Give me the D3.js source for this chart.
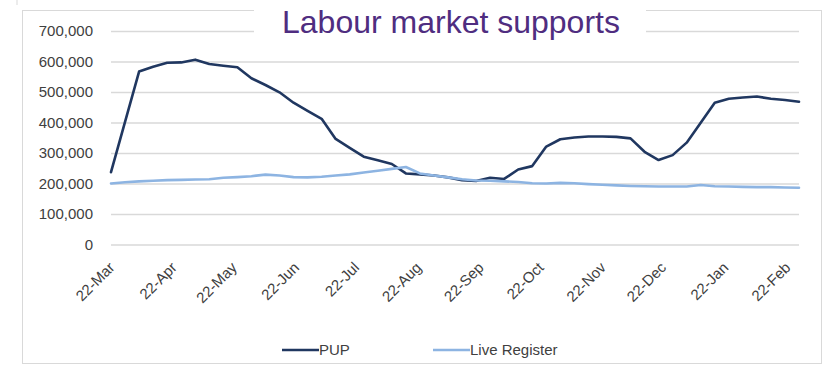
<!DOCTYPE html>
<html>
<head>
<meta charset="utf-8">
<script src="https://cdn.jsdelivr.net/npm/d3@7"></script>
<style>
  body { margin: 0; background: #fff; }
  svg { display: block; }
</style>
</head>
<body>
<div id="main"></div>
<script>
// Weekly dates (x categories)
const weeks = [
  "2020-03-22", "2020-03-29", "2020-04-05", "2020-04-12", "2020-04-19", "2020-04-26",
  "2020-05-03", "2020-05-10", "2020-05-17", "2020-05-24", "2020-05-31", "2020-06-07",
  "2020-06-14", "2020-06-21", "2020-06-28", "2020-07-05", "2020-07-12", "2020-07-19",
  "2020-07-26", "2020-08-02", "2020-08-09", "2020-08-16", "2020-08-23", "2020-08-30",
  "2020-09-06", "2020-09-13", "2020-09-20", "2020-09-27", "2020-10-04", "2020-10-11",
  "2020-10-18", "2020-10-25", "2020-11-01", "2020-11-08", "2020-11-15", "2020-11-22",
  "2020-11-29", "2020-12-06", "2020-12-13", "2020-12-20", "2020-12-27", "2021-01-03",
  "2021-01-10", "2021-01-17", "2021-01-24", "2021-01-31", "2021-02-07", "2021-02-14",
  "2021-02-21", "2021-02-28"
];
// PUP recipients
const pup = [
  237000, 402000, 567000, 583000, 596000, 597000, 606000, 592000, 586000, 581000,
  545000, 523000, 499000, 465000, 438000, 412000, 346000, 317000, 288000, 276000,
  264000, 233000, 230000, 226000, 220000, 211000, 208000, 219000, 215000, 246000,
  257000, 321000, 345000, 351000, 354000, 354000, 353000, 348000, 304000, 277000,
  293000, 334000, 399000, 465000, 478000, 482000, 485000, 478000, 474000, 468000
];
// Live Register
const liveRegister = [
  200000, 204000, 207000, 209000, 211000, 212000, 213000, 214000, 219000, 221000,
  224000, 229000, 226000, 221000, 220000, 222000, 226000, 230000, 236000, 242000,
  248000, 254000, 233000, 226000, 220000, 214000, 210000, 209000, 207000, 205000,
  201000, 200000, 202000, 201000, 198000, 196000, 194000, 192000, 191000, 190000,
  190000, 190000, 195000, 191000, 190000, 189000, 188000, 188000, 187000, 186000
];
const yTicks = [0, 100000, 200000, 300000, 400000, 500000, 600000, 700000];
const xTicks = [
  "2020-03-22", "2020-04-22", "2020-05-22", "2020-06-22", "2020-07-22", "2020-08-22",
  "2020-09-22", "2020-10-22", "2020-11-22", "2020-12-22", "2021-01-22", "2021-02-22"
];
const seriesNames = ["PUP", "Live Register"];
const seriesColors = ["#203760", "#8db4e2"];

const width = 823;
const height = 366;
const plot = { left: 111, right: 799, top: 31, bottom: 244.5 };
const font = "'Liberation Sans', Arial, sans-serif";

const parse = d3.timeParse("%Y-%m-%d");
const dates = weeks.map(parse);

const x = d3.scaleTime()
  .domain(d3.extent(dates))
  .range([plot.left, plot.right]);
const y = d3.scaleLinear()
  .domain([0, 700000])
  .range([plot.bottom, plot.top]);

const svg = d3.select("div#main").append("svg")
  .attr("width", width)
  .attr("height", height);

// chart frame
svg.append("rect")
  .attr("x", 22.5).attr("y", 10.5)
  .attr("width", 799).attr("height", 353)
  .attr("fill", "#fff")
  .attr("stroke", "#d9d9d9")
  .attr("stroke-width", 1);
svg.append("line")
  .attr("x1", 17).attr("x2", 17).attr("y1", 0).attr("y2", 5)
  .attr("stroke", "#d9d9d9");

// gridlines + y labels
const yAxis = d3.axisLeft(y)
  .tickValues(yTicks)
  .tickSize(-(plot.right - plot.left))
  .tickPadding(18)
  .tickFormat(d3.format(","));
const gy = svg.append("g")
  .attr("transform", "translate(" + plot.left + ",0)")
  .call(yAxis);
gy.select(".domain").remove();
gy.selectAll(".tick line")
  .attr("stroke", "#d9d9d9")
  .attr("stroke-width", 1.6);
gy.selectAll(".tick text")
  .attr("fill", "#404040")
  .style("font", "15px " + font);

// x labels, rotated
const xAxis = d3.axisBottom(x)
  .tickValues(xTicks.map(parse))
  .tickSize(0)
  .tickFormat(d3.timeFormat("%d-%b"));
const gx = svg.append("g")
  .attr("transform", "translate(0," + plot.bottom + ")")
  .call(xAxis);
gx.select(".domain").remove();
gx.selectAll(".tick text")
  .attr("fill", "#404040")
  .style("font", "15px " + font)
  .attr("text-anchor", "end")
  .attr("dy", null)
  .attr("y", null)
  .attr("transform", "translate(4,24) rotate(-45)");

// lines
const series = [pup, liveRegister];
const line = d3.line()
  .x((d, i) => x(dates[i]))
  .y(d => y(d));
svg.selectAll("path.series").data(series)
  .enter().append("path")
  .attr("class", "series")
  .attr("d", line)
  .attr("fill", "none")
  .attr("stroke", (d, i) => seriesColors[i])
  .attr("stroke-width", 2.6)
  .attr("stroke-linejoin", "round")
  .attr("stroke-linecap", "round");

// legend
const legendX = [282, 433];
const legend = svg.selectAll("g.legend").data(seriesNames)
  .enter().append("g")
  .attr("class", "legend")
  .attr("transform", (d, i) => "translate(" + legendX[i] + ",350)");
legend.append("line")
  .attr("x1", 0).attr("x2", 37)
  .attr("stroke", (d, i) => seriesColors[i])
  .attr("stroke-width", 2.6);
legend.append("text")
  .attr("x", 37)
  .attr("dy", "0.35em")
  .attr("fill", "#404040")
  .style("font", "15px " + font)
  .text(d => d);

// title on white patch
svg.append("rect")
  .attr("x", 254).attr("y", 0)
  .attr("width", 392).attr("height", 44)
  .attr("fill", "#fff");
svg.append("text")
  .attr("x", 282).attr("y", 33)
  .attr("fill", "#4f2d80")
  .style("font", "32px " + font)
  .text("Labour market supports");
</script>
</body>
</html>
